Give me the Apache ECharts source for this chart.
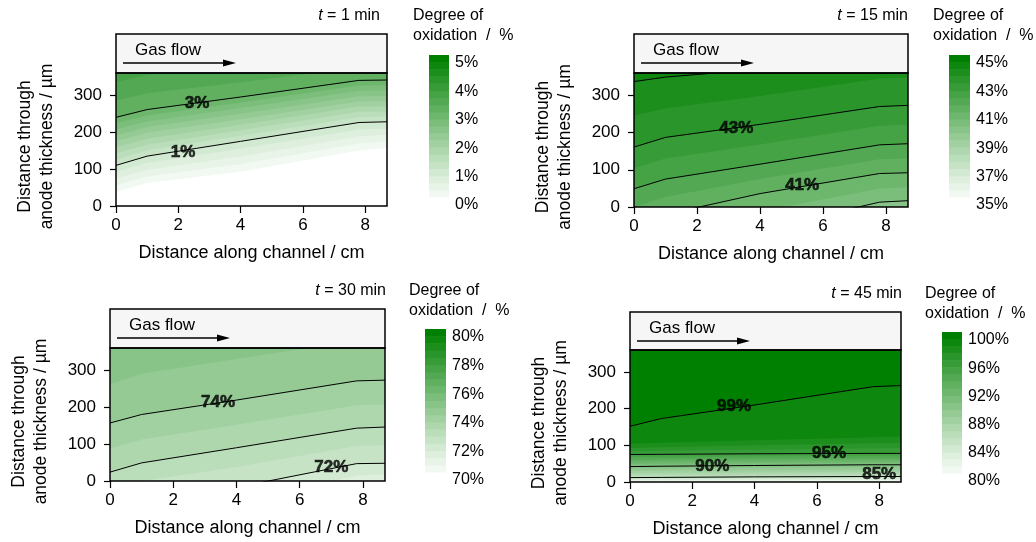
<!DOCTYPE html>
<html lang="en">
<head>
<meta charset="UTF-8">
<title>Degree of oxidation</title>
<script src="https://cdn.jsdelivr.net/npm/echarts@6/dist/echarts.min.js"></script>
<style>html,body{margin:0;background:#fff}</style>
</head>
<body>
<div id="main" style="width:1036px;height:542px"></div>
<script>
var xCols = [0, 1, 4, 7.8, 8.7];

// t = 1 min : level (%) and its height (µm) at each xCols
var p1Levels = [0, 0.25, 0.5, 0.75, 1, 1.25, 1.5, 1.75, 2, 2.25, 2.5, 2.75, 3, 3.25, 3.5];
var p1Edges = [
    [38, 62, 93, 150, 157],
    [56, 80, 114, 169, 175],
    [74, 98, 134, 188, 193],
    [92, 117, 155, 207, 210],
    [110, 135, 175, 226, 228],
    [126, 151, 190, 240, 242],
    [143, 166, 205, 255, 256],
    [159, 182, 220, 269, 270],
    [175, 198, 235, 283, 284],
    [191, 214, 250, 297, 298],
    [208, 229, 265, 312, 313],
    [224, 245, 280, 326, 327],
    [240, 261, 295, 340, 341],
    [285, 305, 335, 375, 377],
    [335, 355, 380, 410, 412]
];
var p1Lines = [1, 3];
var p1Labels = [[2.15, 146, '1%'], [2.6, 277, '3%']];
var p1Scale = [0, 5, 1];

// t = 15 min
var p2Levels = [39.5, 40, 40.5, 41, 41.5, 42, 42.5, 43, 43.5, 44];
var p2Edges = [
    [-300, -250, -150, -40, -35],
    [-200, -170, -60, 13, 17],
    [-120, -95, -12, 50, 53],
    [-50, -20, 36, 90, 92],
    [0, 27, 75, 128, 131],
    [49, 75, 115, 167, 170],
    [105, 130, 168, 218, 221],
    [161, 187, 222, 270, 273],
    [245, 265, 298, 345, 348],
    [337, 349, 370, 400, 402]
];
var p2Lines = [40, 41, 42, 43, 44];
var p2Labels = [[3.25, 212, '43%'], [5.34, 58, '41%']];
var p2Scale = [35, 45, 2];

// t = 30 min
var p3Levels = [71.5, 72, 72.5, 73, 73.5, 74, 74.5];
var p3Edges = [
    [-150, -120, -60, 15, 18],
    [-90, -70, -17, 47, 48],
    [-25, 0, 38, 95, 97],
    [24, 49, 90, 143, 146],
    [88, 112, 152, 205, 208],
    [157, 180, 219, 271, 273],
    [262, 290, 330, 380, 385]
];
var p3Lines = [72, 73, 74];
var p3Labels = [[3.42, 212, '74%'], [7.0, 38, '72%']];
var p3Scale = [70, 80, 2];

// t = 45 min
var p4Levels = [81, 82, 83, 84, 85, 86, 87, 88, 89, 90, 91, 92, 93, 94, 95, 96, 97, 98, 99];
var p4Edges = [
    [2, 2, 3, 4, 4],
    [4, 4.5, 5, 6, 6],
    [7, 7, 8, 9, 9],
    [10, 10, 11, 12, 12],
    [12, 12.5, 14, 15, 15],
    [18, 19, 20, 21, 21],
    [24, 24.5, 26, 27, 27],
    [30, 31, 32, 33, 33],
    [36, 37, 39, 40, 40],
    [42, 43, 45, 47, 47],
    [49, 50, 52, 53, 53],
    [55, 56, 58, 59, 59],
    [61, 62, 64, 65, 65],
    [68, 68, 70, 71, 72],
    [75, 75.5, 77, 78, 78],
    [84, 85, 88, 92, 93],
    [93, 95, 100, 106, 107],
    [104, 107, 114, 122, 124],
    [152, 173, 210, 260, 263]
];
var p4Lines = [85, 90, 95, 99];
var p4Labels = [[3.34, 206, '99%'], [6.39, 77, '95%'], [2.64, 43, '90%'], [8.0, 20, '85%']];
var p4Scale = [80, 100, 4];

var titles = ['1 min', '15 min', '30 min', '45 min'];
var NBANDS = 20;

var panels = [
    {levels: p1Levels, edges: p1Edges, lines: p1Lines, labels: p1Labels, scale: p1Scale},
    {levels: p2Levels, edges: p2Edges, lines: p2Lines, labels: p2Labels, scale: p2Scale},
    {levels: p3Levels, edges: p3Edges, lines: p3Lines, labels: p3Labels, scale: p3Scale},
    {levels: p4Levels, edges: p4Edges, lines: p4Lines, labels: p4Labels, scale: p4Scale}
];

// pixel layout of each panel (plot, header, colour bar, titles)
var layout = [
    {left: 116, top: 73, width: 271, height: 133, head: 34, cbL: 429, cbT: 55, cbW: 20, cbH: 142, tR: 380, tY: 16, dX: 413, dY: 16},
    {left: 634, top: 73, width: 274, height: 134, head: 34, cbL: 949, cbT: 55, cbW: 21, cbH: 142, tR: 908, tY: 16, dX: 933, dY: 16},
    {left: 110, top: 348, width: 275, height: 133, head: 309, cbL: 425, cbT: 329, cbW: 21, cbH: 143, tR: 386, tY: 291, dX: 409, dY: 291},
    {left: 630, top: 350, width: 271, height: 132, head: 312, cbL: 942, cbT: 332, cbW: 20, cbH: 141, tR: 902, tY: 294, dX: 925, dY: 294}
];

var FONT = '"Liberation Sans", Arial, sans-serif';

// colour of band i (0 = lightest, 19 = darkest)
function bandColor(i) {
    if (i < 0) return '#ffffff';
    var t = Math.pow(i / (NBANDS - 1), 1.1);
    var a = [242, 249, 242], b = [0, 128, 0];
    var c = a.map(function (v, k) { return Math.round(v + (b[k] - v) * t); });
    return 'rgb(' + c.join(',') + ')';
}

var myChart = echarts.init(document.getElementById('main'), null, {renderer: 'canvas'});

var grid = [], xAxis = [], yAxis = [], series = [], graphic = [];

panels.forEach(function (p, n) {
    var L = layout[n];
    var step = (p.scale[1] - p.scale[0]) / NBANDS;
    var gPlot = grid.length;
    var topIdx = Math.round((p.levels[p.levels.length - 1] - p.scale[0]) / step);
    grid.push({left: L.left, top: L.top, width: L.width, height: L.height, containLabel: false,
        outerBoundsMode: 'none', show: true, backgroundColor: bandColor(topIdx), borderWidth: 0});
    var gBar = grid.length;
    grid.push({left: L.cbL, top: L.cbT, width: L.cbW, height: L.cbH, containLabel: false, outerBoundsMode: 'none'});

    var xi = xAxis.length, yi = yAxis.length;
    // main x axis (major ticks + labels)
    xAxis.push({
        gridIndex: gPlot, type: 'value', min: 0, max: 8.7,
        name: 'Distance along channel / cm', nameLocation: 'middle', nameGap: 38, nameMoveOverlap: false,
        nameTextStyle: {fontSize: 18, color: '#000', fontFamily: FONT},
        axisLine: {show: false},
        axisTick: {show: true, length: 7, customValues: [0, 2, 4, 6, 8], lineStyle: {color: '#000', width: 1.2}},
        axisLabel: {fontSize: 17, color: '#000', fontFamily: FONT, margin: 11, customValues: [0, 2, 4, 6, 8]},
        splitLine: {show: false}
    });
    // minor ticks
    xAxis.push({
        gridIndex: gPlot, type: 'value', min: 0, max: 8.7,
        axisLine: {show: false},
        axisTick: {show: true, length: 4, customValues: [1, 3, 5, 7], lineStyle: {color: '#000', width: 1.2}},
        axisLabel: {show: false}, splitLine: {show: false}
    });
    yAxis.push({
        gridIndex: gPlot, type: 'value', min: 0, max: 360,
        name: 'Distance through\nanode thickness / µm', nameLocation: 'middle', nameGap: 58, nameMoveOverlap: false,
        nameTextStyle: {fontSize: 17.5, lineHeight: 22, color: '#000', fontFamily: FONT, padding: [0, 14, 0, 0]},
        axisLine: {show: false},
        axisTick: {show: true, length: 6, customValues: [0, 100, 200, 300], lineStyle: {color: '#000', width: 1.2}},
        axisLabel: {fontSize: 17, color: '#000', fontFamily: FONT, margin: 14, customValues: [0, 100, 200, 300]},
        splitLine: {show: false}
    });
    // colour bar axes
    xAxis.push({gridIndex: gBar, type: 'value', min: 0, max: 1, show: false});
    yAxis.push({
        gridIndex: gBar, type: 'value', position: 'right',
        min: p.scale[0], max: p.scale[1], interval: p.scale[2],
        axisLine: {show: false}, axisTick: {show: false}, splitLine: {show: false},
        axisLabel: {fontSize: 16, color: '#000', fontFamily: FONT, margin: 6, verticalAlign: 'top',
            formatter: '{value}%'}
    });

    // filled bands: highest edge first, each fills the area below it
    for (var j = p.levels.length - 1; j >= 0; j--) {
        var idx = Math.round((p.levels[j] - p.scale[0]) / step) - 1;
        series.push({
            type: 'line', xAxisIndex: xi, yAxisIndex: yi, silent: true, z: 2,
            symbol: 'none', lineStyle: {width: 0, opacity: 0},
            areaStyle: {color: bandColor(idx), opacity: 1, origin: 'start'},
            data: xCols.map(function (x, k) { return [x, p.edges[j][k]]; })
        });
    }
    // contour lines
    p.lines.forEach(function (lv) {
        var j = p.levels.indexOf(lv);
        series.push({
            type: 'line', xAxisIndex: xi, yAxisIndex: yi, silent: true, z: 3,
            symbol: 'none', lineStyle: {color: '#000', width: 1},
            data: xCols.map(function (x, k) { return [x, p.edges[j][k]]; })
        });
    });
    // contour labels
    series.push({
        type: 'scatter', xAxisIndex: xi, yAxisIndex: yi, silent: true, z: 4,
        symbolSize: 0,
        label: {show: true, position: 'inside', formatter: '{b}', fontSize: 17, fontWeight: 'bold',
            color: '#000', fontFamily: FONT, textBorderColor: '#000', textBorderWidth: 0.6},
        data: p.labels.map(function (d) { return {value: [d[0], d[1]], name: d[2]}; })
    });
    // colour bar
    var bands = [];
    for (var b = 0; b < NBANDS; b++) bands.push([p.scale[0] + b * step, p.scale[0] + (b + 1) * step, b]);
    series.push({
        type: 'custom', xAxisIndex: xi + 2, yAxisIndex: yi + 1, silent: true,
        data: bands,
        encode: {y: [0, 1]},
        renderItem: function (params, api) {
            var a = api.coord([0, api.value(1)]);
            var c = api.coord([1, api.value(0)]);
            return {type: 'rect', shape: {x: a[0], y: a[1], width: c[0] - a[0], height: c[1] - a[1] + 0.5},
                style: {fill: bandColor(api.value(2))}};
        }
    });

    // header box with the gas-flow arrow, frame and titles
    var ay = L.head + 29;
    graphic.push(
        {type: 'rect', z: 50, shape: {x: L.left, y: L.head, width: L.width, height: L.top - L.head},
            style: {fill: '#f6f6f6', stroke: '#000', lineWidth: 1.5}},
        {type: 'text', z: 51, x: L.left + 19, y: L.head + 16,
            style: {text: 'Gas flow', fontSize: 17, fontFamily: FONT, fill: '#000', verticalAlign: 'middle'}},
        {type: 'line', z: 51, shape: {x1: L.left + 7, y1: ay, x2: L.left + 110, y2: ay},
            style: {stroke: '#000', lineWidth: 1.5}},
        {type: 'polygon', z: 51, shape: {points: [[L.left + 120, ay], [L.left + 107, ay - 3.5], [L.left + 107, ay + 3.5]]},
            style: {fill: '#000'}},
        {type: 'rect', z: 100, shape: {x: L.left, y: L.top, width: L.width, height: L.height},
            style: {fill: 'none', stroke: '#000', lineWidth: 1.5}},
        {type: 'text', z: 51, x: L.tR, y: L.tY,
            style: {text: '{i|t} = ' + titles[n], fontSize: 16, fontFamily: FONT, fill: '#000',
                align: 'right', verticalAlign: 'middle',
                rich: {i: {fontStyle: 'italic', fontSize: 16, fontFamily: FONT}}}},
        {type: 'text', z: 51, x: L.dX, y: L.dY,
            style: {text: 'Degree of', fontSize: 16, fontFamily: FONT, fill: '#000', verticalAlign: 'middle'}},
        {type: 'text', z: 51, x: L.dX, y: L.dY + 20,
            style: {text: 'oxidation  /  %', fontSize: 16, fontFamily: FONT, fill: '#000', verticalAlign: 'middle'}}
    );
});

var option = {
    animation: false,
    backgroundColor: '#fff',
    grid: grid,
    xAxis: xAxis,
    yAxis: yAxis,
    series: series,
    graphic: graphic
};
myChart.setOption(option);
</script>
</body>
</html>
